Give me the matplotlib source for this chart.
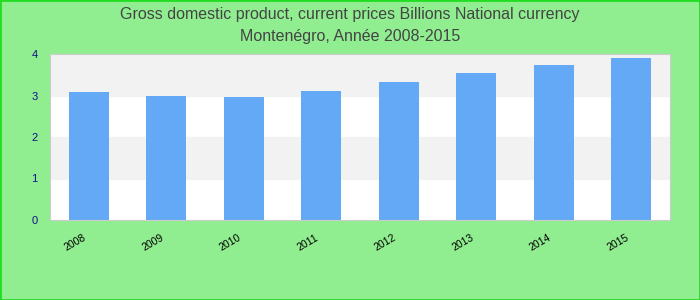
import matplotlib.pyplot as plt
from matplotlib.patches import Rectangle
from matplotlib.transforms import ScaledTranslation

years = ['2008', '2009', '2010', '2011', '2012', '2013', '2014', '2015']
gdp = [3.08, 2.99, 2.96, 3.11, 3.33, 3.54, 3.73, 3.90]
yticks = [0, 1, 2, 3, 4]

fig = plt.figure(figsize=(7, 3), dpi=100, facecolor='#90ee90')
fig.patches.append(Rectangle((0, 0), 1, 1, transform=fig.transFigure, fill=False,
                             edgecolor='#22dd22', linewidth=2))
ax = fig.add_axes([50 / 700, 1 - 220 / 300, 620 / 700, 166 / 300])
ax.set_facecolor('white')

# alternating bands
for i in range(len(yticks) - 1):
    if i % 2 == 1:
        ax.axhspan(yticks[i], yticks[i + 1], color='#f2f2f2', zorder=0)

x = range(len(years))
ax.bar(x, gdp, 0.52, color='#63a9f5', zorder=2)
ax.set_xlim(-0.5, len(years) - 0.5)
ax.set_ylim(0, 4)
ax.set_yticks(yticks)
ax.set_xticks(list(x))
ax.set_xticklabels(years, rotation=30, fontsize=7.5, family='Liberation Sans',
                   ha='right', rotation_mode='anchor')
ax.tick_params(axis='y', length=0, pad=9, labelcolor='#10108a', labelsize=8)
ax.tick_params(axis='x', length=0, pad=9)
shift = ScaledTranslation(-6 / 100, 0, fig.dpi_scale_trans)
for lab in ax.get_xticklabels():
    lab.set_transform(lab.get_transform() + shift)
for lab in ax.get_yticklabels():
    lab.set_family('Liberation Sans')
for s in ax.spines.values():
    s.set_color('#cccccc')

fig.text(0.5, 1 - 14 / 300, 'Gross domestic product, current prices Billions National currency',
         ha='center', va='center', fontsize=11.5, color='#444444', family='Liberation Sans')
fig.text(0.5, 1 - 37 / 300, 'Montenégro, Année 2008-2015',
         ha='center', va='center', fontsize=11.5, color='#444444', family='Liberation Sans')

fig.savefig('out.png', facecolor=fig.get_facecolor())
